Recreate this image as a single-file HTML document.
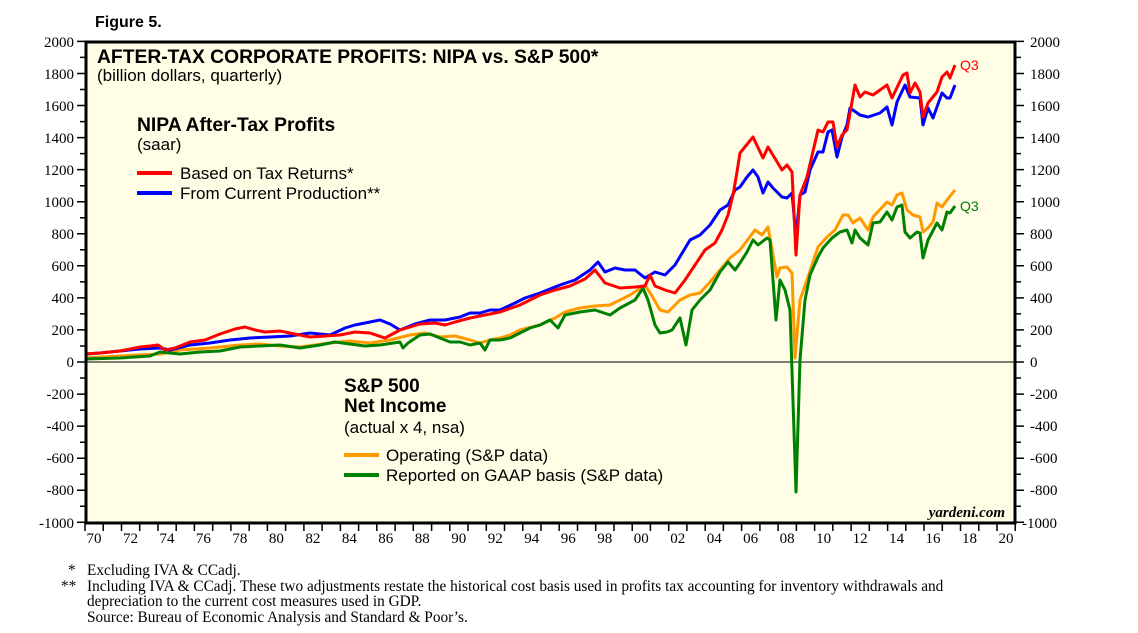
<!DOCTYPE html><html><head><style>body{margin:0;background:#fff}svg{display:block}</style></head><body>
<svg width="1138" height="633" xmlns="http://www.w3.org/2000/svg" font-family="Liberation Sans, sans-serif">
<rect x="86" y="42" width="929" height="481" fill="#fffde6"/>
<line x1="86" y1="362" x2="1015" y2="362" stroke="#000" stroke-width="1"/>
<path stroke="#000" stroke-width="1.5" fill="none" d="
M77 41.4h9M80 57.4h6M77 73.5h9M80 89.5h6M77 105.5h9M80 121.6h6M77 137.6h9M80 153.6h6M77 169.6h9M80 185.7h6M77 201.7h9M80 217.7h6M77 233.8h9M80 249.8h6M77 265.8h9M80 281.9h6M77 297.9h9M80 313.9h6M77 329.9h9M80 346h6M77 362h9M80 378h6M77 394.1h9M80 410.1h6M77 426.1h9M80 442.2h6M77 458.2h9M80 474.2h6M77 490.2h9M80 506.3h6M77 522.3h9
M1015 41.4h9M1015 57.4h6M1015 73.5h9M1015 89.5h6M1015 105.5h9M1015 121.6h6M1015 137.6h9M1015 153.6h6M1015 169.6h9M1015 185.7h6M1015 201.7h9M1015 217.7h6M1015 233.8h9M1015 249.8h6M1015 265.8h9M1015 281.9h6M1015 297.9h9M1015 313.9h6M1015 329.9h9M1015 346h6M1015 362h9M1015 378h6M1015 394.1h9M1015 410.1h6M1015 426.1h9M1015 442.2h6M1015 458.2h9M1015 474.2h6M1015 490.2h9M1015 506.3h6M1015 522.3h9
M85 523v8M103.2 523v8M121.5 523v8M139.7 523v8M158 523v8M176.2 523v8M194.4 523v8M212.7 523v8M230.9 523v8M249.2 523v8M267.4 523v8M285.6 523v8M303.9 523v8M322.1 523v8M340.4 523v8M358.6 523v8M376.8 523v8M395.1 523v8M413.3 523v8M431.6 523v8M449.8 523v8M468 523v8M486.3 523v8M504.5 523v8M522.8 523v8M541 523v8M559.2 523v8M577.5 523v8M595.7 523v8M614 523v8M632.2 523v8M650.4 523v8M668.7 523v8M686.9 523v8M705.2 523v8M723.4 523v8M741.6 523v8M759.9 523v8M778.1 523v8M796.4 523v8M814.6 523v8M832.8 523v8M851.1 523v8M869.3 523v8M887.6 523v8M905.8 523v8M924 523v8M942.3 523v8M960.5 523v8M978.8 523v8M997 523v8M1015.2 523v8"/>
<g font-family="Liberation Serif, serif" font-size="15" fill="#000">
<g text-anchor="end">
<text x="74" y="47">2000</text><text x="74" y="79">1800</text><text x="74" y="111">1600</text><text x="74" y="143">1400</text><text x="74" y="175">1200</text><text x="74" y="207">1000</text><text x="74" y="239">800</text><text x="74" y="271">600</text><text x="74" y="303">400</text><text x="74" y="335">200</text><text x="74" y="367">0</text><text x="74" y="399">-200</text><text x="74" y="431">-400</text><text x="74" y="463">-600</text><text x="74" y="495">-800</text><text x="74" y="528">-1000</text>
</g>
<g>
<text x="1030" y="47">2000</text><text x="1030" y="79">1800</text><text x="1030" y="111">1600</text><text x="1030" y="143">1400</text><text x="1030" y="175">1200</text><text x="1030" y="207">1000</text><text x="1030" y="239">800</text><text x="1030" y="271">600</text><text x="1030" y="303">400</text><text x="1030" y="335">200</text><text x="1030" y="367">0</text><text x="1030" y="399">-200</text><text x="1030" y="431">-400</text><text x="1030" y="463">-600</text><text x="1030" y="495">-800</text><text x="1022" y="528">-1000</text>
</g>
<g text-anchor="middle">
<text x="94" y="543">70</text><text x="130.5" y="543">72</text><text x="167" y="543">74</text><text x="203.4" y="543">76</text><text x="239.9" y="543">78</text><text x="276.4" y="543">80</text><text x="312.9" y="543">82</text><text x="349.4" y="543">84</text><text x="385.8" y="543">86</text><text x="422.3" y="543">88</text><text x="458.8" y="543">90</text><text x="495.3" y="543">92</text><text x="531.8" y="543">94</text><text x="568.2" y="543">96</text><text x="604.7" y="543">98</text><text x="641.2" y="543">00</text><text x="677.7" y="543">02</text><text x="714.2" y="543">04</text><text x="750.6" y="543">06</text><text x="787.1" y="543">08</text><text x="823.6" y="543">10</text><text x="860.1" y="543">12</text><text x="896.6" y="543">14</text><text x="933" y="543">16</text><text x="969.5" y="543">18</text><text x="1006" y="543">20</text>
</g>
<g font-size="15.3">
<text x="68" y="575">*</text><text x="87" y="575">Excluding IVA &amp; CCadj.</text>
<text x="61" y="591">**</text><text x="87" y="591">Including IVA &amp; CCadj. These two adjustments restate the historical cost basis used in profits tax accounting for inventory withdrawals and</text>
<text x="87" y="606">depreciation to the current cost measures used in GDP.</text>
<text x="87" y="622">Source: Bureau of Economic Analysis and Standard &amp; Poor’s.</text>
</g>
<text x="1005" y="517" text-anchor="end" font-style="italic" font-weight="bold" font-size="15">yardeni.com</text>
</g>
<text x="95" y="27" font-weight="bold" font-size="16">Figure 5.</text>
<text x="97" y="63" font-weight="bold" font-size="19.3">AFTER-TAX CORPORATE PROFITS: NIPA vs. S&amp;P 500*</text>
<text x="97" y="81" font-size="17">(billion dollars, quarterly)</text>
<text x="137" y="131" font-weight="bold" font-size="19.3">NIPA After-Tax Profits</text>
<text x="137" y="150" font-size="17">(saar)</text>
<line x1="137" y1="173" x2="172" y2="173" stroke="#f00" stroke-width="4"/><text x="180" y="179" font-size="17">Based on Tax Returns*</text>
<line x1="137" y1="193" x2="172" y2="193" stroke="#00f" stroke-width="4"/><text x="180" y="199" font-size="17">From Current Production**</text>
<text x="344" y="392" font-weight="bold" font-size="19">S&amp;P 500</text>
<text x="344" y="412" font-weight="bold" font-size="19">Net Income</text>
<text x="344" y="433" font-size="17">(actual x 4, nsa)</text>
<line x1="344" y1="455" x2="379" y2="455" stroke="#ff9900" stroke-width="4"/><text x="386" y="461" font-size="17">Operating (S&amp;P data)</text>
<line x1="344" y1="475" x2="379" y2="475" stroke="#008000" stroke-width="4"/><text x="386" y="481" font-size="17">Reported on GAAP basis (S&amp;P data)</text>
<text x="960" y="70" font-size="14" fill="#f00">Q3</text>
<text x="960" y="211" font-size="14" fill="#008000">Q3</text>
<g fill="none" stroke-width="3" stroke-linejoin="round">
<polyline stroke="#ff9900" points="86,358 120,356 160,354 180,350 210,348 240,345 260,344 280,346 300,347 330,343 350,341 370,343 390,340 410,335 425,333 440,337 455,336 470,340 480,343 490,340 500,338 510,335 520,330 540,325 555,318 565,312 580,308 595,306 610,305 620,300 630,295 645,285 652,296 660,310 668,312 680,300 690,295 700,293 710,282 720,270 730,258 740,250 755,230 762,235 768,227 777,277 780,268 787,267 792,273 795,358 800,300 807,280 818,247 827,237 835,230 843,215 848,215 853,223 860,218 868,230 873,217 887,202 892,205 897,195 902,193 907,210 913,215 920,217 923,232 928,228 933,222 937,203 942,207 947,200 955,190"/>
<polyline stroke="#008000" points="86,359 120,358 150,356 160,352 180,354 200,352 220,351 240,347 260,346 280,345 300,348 320,345 335,342 350,344 365,346 380,345 400,342 403,348 408,343 420,335 430,334 440,338 450,342 460,342 470,345 480,343 485,350 490,340 500,340 510,338 520,333 530,328 540,325 550,320 558,328 565,315 580,312 595,310 610,315 620,308 635,300 643,288 648,300 655,325 660,333 667,332 672,330 680,318 686,345 692,310 700,300 710,290 720,272 728,262 735,270 740,263 747,252 753,240 758,245 767,238 770,240 773,280 776,320 780,280 785,290 790,310 796,492 800,360 805,300 810,275 818,257 823,248 832,238 840,232 847,230 852,243 855,230 860,238 868,245 873,223 880,222 887,212 892,220 897,207 902,205 905,232 910,238 917,232 920,233 923,258 928,240 937,223 942,230 947,212 950,213 955,206"/>
<polyline stroke="#0000ff" points="86,354 100,353 120,351 140,349 160,348 170,350 190,345 210,343 230,340 250,338 270,337 290,336 310,333 330,335 345,328 355,325 370,322 380,320 390,324 400,330 415,324 430,320 445,320 460,317 470,313 480,313 490,310 500,310 515,303 525,298 540,293 560,285 575,280 590,270 598,262 605,272 615,268 625,270 635,270 645,278 655,272 665,275 675,265 690,240 700,235 710,225 720,210 728,205 735,190 740,187 747,177 753,170 758,177 763,193 768,182 773,188 782,197 787,198 792,193 796,237 800,195 805,192 810,170 818,152 823,152 828,132 832,130 837,157 842,137 847,125 850,108 860,115 868,117 880,113 887,107 892,125 897,102 905,85 910,97 920,98 923,125 928,108 933,118 942,93 947,98 950,98 955,85"/>
<polyline stroke="#ff0000" points="86,354 100,353 120,351 140,347 150,346 158,345 165,350 175,348 190,342 205,340 220,334 235,329 245,327 255,330 265,332 280,331 295,334 310,337 325,336 340,335 355,332 370,333 385,338 400,330 410,327 420,324 435,323 445,325 455,322 470,318 490,314 500,312 520,305 540,295 555,290 570,286 585,279 595,270 605,283 620,288 635,287 645,286 650,275 655,286 665,290 675,293 685,280 695,265 705,250 715,243 722,230 728,215 733,195 737,172 740,153 753,137 763,158 768,147 782,170 787,165 792,172 796,255 800,195 807,177 818,130 823,132 828,122 833,122 837,147 842,135 847,130 855,85 860,97 865,92 873,95 887,85 892,98 903,75 907,73 910,93 915,83 920,92 923,117 928,103 937,92 942,77 947,72 950,78 955,65"/>
</g>
<rect x="86" y="42" width="929" height="481" fill="none" stroke="#000" stroke-width="3"/>
</svg>
</body></html>
